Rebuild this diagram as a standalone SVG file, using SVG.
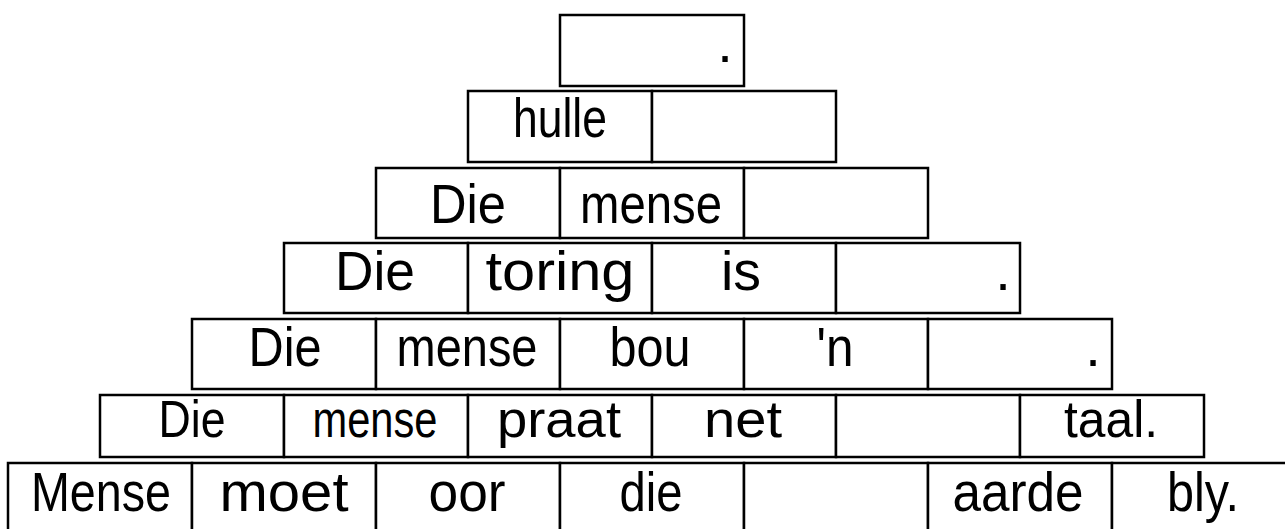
<svg xmlns="http://www.w3.org/2000/svg" width="1285" height="529" viewBox="0 0 1285 529">
<style>
.c{fill:#fff;stroke:#000;stroke-width:2.5}
.t{font-family:"Liberation Sans",Arial,sans-serif;font-size:56px;text-anchor:middle;fill:#000}
.s{font-size:52px}
</style>
<rect width="1285" height="529" fill="#fff"/>
<g id="row1">
<g id="r1c1"><rect class="c" x="560" y="15" width="184" height="71"/><text class="t" x="725" y="62">.</text></g>
</g>
<g id="row2">
<g id="r2c1"><rect class="c" x="468" y="91" width="184" height="71"/><text class="t" x="560" y="137" textLength="94" lengthAdjust="spacingAndGlyphs">hulle</text></g>
<g id="r2c2"><rect class="c" x="652" y="91" width="184" height="71"/></g>
</g>
<g id="row3">
<g id="r3c1"><rect class="c" x="376" y="168" width="184" height="70"/><text class="t" x="468" y="223" textLength="76" lengthAdjust="spacingAndGlyphs">Die</text></g>
<g id="r3c2"><rect class="c" x="560" y="168" width="184" height="70"/><text class="t" x="651" y="223" textLength="142" lengthAdjust="spacingAndGlyphs">mense</text></g>
<g id="r3c3"><rect class="c" x="744" y="168" width="184" height="70"/></g>
</g>
<g id="row4">
<g id="r4c1"><rect class="c" x="284" y="243" width="184" height="70"/><text class="t" x="375" y="290" textLength="80" lengthAdjust="spacingAndGlyphs">Die</text></g>
<g id="r4c2"><rect class="c" x="468" y="243" width="184" height="70"/><text class="t" x="560" y="290" textLength="149" lengthAdjust="spacingAndGlyphs">toring</text></g>
<g id="r4c3"><rect class="c" x="652" y="243" width="184" height="70"/><text class="t" x="741" y="290" textLength="40" lengthAdjust="spacingAndGlyphs">is</text></g>
<g id="r4c4"><rect class="c" x="836" y="243" width="184" height="70"/><text class="t" x="1003" y="290">.</text></g>
</g>
<g id="row5">
<g id="r5c1"><rect class="c" x="192" y="319" width="184" height="70"/><text class="t" x="285" y="366" textLength="73" lengthAdjust="spacingAndGlyphs">Die</text></g>
<g id="r5c2"><rect class="c" x="376" y="319" width="184" height="70"/><text class="t" x="467" y="366" textLength="141" lengthAdjust="spacingAndGlyphs">mense</text></g>
<g id="r5c3"><rect class="c" x="560" y="319" width="184" height="70"/><text class="t" x="650" y="366" textLength="81" lengthAdjust="spacingAndGlyphs">bou</text></g>
<g id="r5c4"><rect class="c" x="744" y="319" width="184" height="70"/><text class="t" x="835" y="366" textLength="37" lengthAdjust="spacingAndGlyphs">'n</text></g>
<g id="r5c5"><rect class="c" x="928" y="319" width="184" height="70"/><text class="t" x="1093" y="366">.</text></g>
</g>
<g id="row6">
<g id="r6c1"><rect class="c" x="100" y="395" width="184" height="62"/><text class="t s" x="192" y="437" textLength="67" lengthAdjust="spacingAndGlyphs">Die</text></g>
<g id="r6c2"><rect class="c" x="284" y="395" width="184" height="62"/><text class="t s" x="375" y="437" textLength="125" lengthAdjust="spacingAndGlyphs">mense</text></g>
<g id="r6c3"><rect class="c" x="468" y="395" width="184" height="62"/><text class="t s" x="559" y="437" textLength="124" lengthAdjust="spacingAndGlyphs">praat</text></g>
<g id="r6c4"><rect class="c" x="652" y="395" width="184" height="62"/><text class="t s" x="743" y="437" textLength="78" lengthAdjust="spacingAndGlyphs">net</text></g>
<g id="r6c5"><rect class="c" x="836" y="395" width="184" height="62"/></g>
<g id="r6c6"><rect class="c" x="1020" y="395" width="184" height="62"/><text class="t s" x="1111" y="437" textLength="94" lengthAdjust="spacingAndGlyphs">taal.</text></g>
</g>
<g id="row7">
<g id="r7c1"><rect class="c" x="8" y="463" width="184" height="70"/><text class="t" x="101" y="511" textLength="140" lengthAdjust="spacingAndGlyphs">Mense</text></g>
<g id="r7c2"><rect class="c" x="192" y="463" width="184" height="70"/><text class="t" x="284" y="511" textLength="129" lengthAdjust="spacingAndGlyphs">moet</text></g>
<g id="r7c3"><rect class="c" x="376" y="463" width="184" height="70"/><text class="t" x="467" y="511" textLength="77" lengthAdjust="spacingAndGlyphs">oor</text></g>
<g id="r7c4"><rect class="c" x="560" y="463" width="184" height="70"/><text class="t" x="651" y="511" textLength="63" lengthAdjust="spacingAndGlyphs">die</text></g>
<g id="r7c5"><rect class="c" x="744" y="463" width="184" height="70"/></g>
<g id="r7c6"><rect class="c" x="928" y="463" width="184" height="70"/><text class="t" x="1018" y="511" textLength="131" lengthAdjust="spacingAndGlyphs">aarde</text></g>
<g id="r7c7"><rect class="c" x="1112" y="463" width="184" height="70"/><text class="t" x="1203" y="511" textLength="72" lengthAdjust="spacingAndGlyphs">bly.</text></g>
</g>
<g id="connectors"/>
</svg>
